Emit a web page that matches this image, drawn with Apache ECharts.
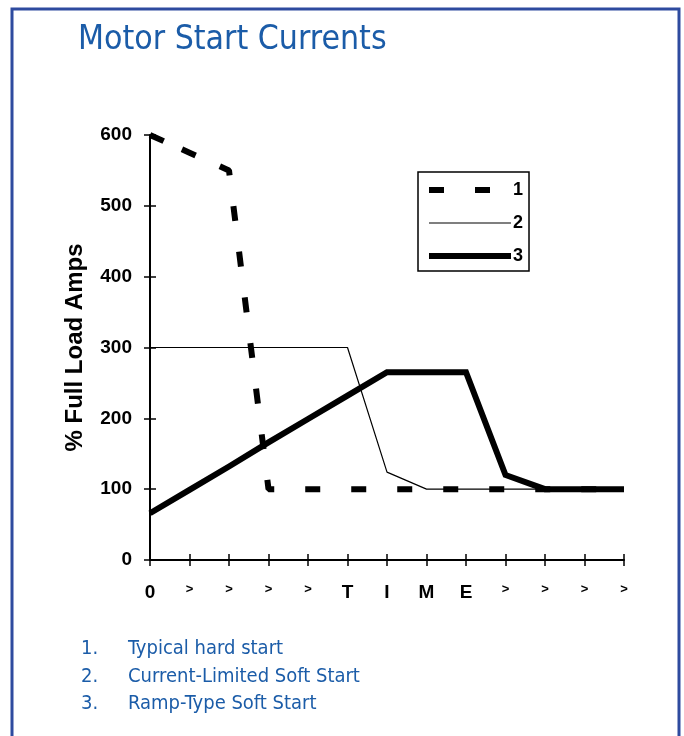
<!DOCTYPE html>
<html>
<head>
<meta charset="utf-8">
<script src="https://cdn.jsdelivr.net/npm/echarts@6/dist/echarts.min.js"></script>
<style>html,body{margin:0;padding:0;background:#fff}#c{width:684px;height:736px}</style>
</head>
<body>
<div id="c"></div>
<script>
// ---- data ----
const xLabels = ['0', '>', '>', '>', '>', 'T', 'I', 'M', 'E', '>', '>', '>', '>'];
const hardStart = [600, 575, 550, 100, 100, 100, 100, 100, 100, 100, 100, 100, 100];
const currentLimited = [300, 300, 300, 300, 300, 300, 124, 100, 100, 100, 100, 100, 100];
const rampType = [66, 99, 132, 166, 199, 232, 265, 265, 265, 120, 100, 100, 100];
const seriesNames = ['1', '2', '3'];
const notesNum = ['1.', '2.', '3.'];
const notesText = ['Typical hard start', 'Current-Limited Soft Start', 'Ramp-Type Soft Start'];
const chartTitle = 'Motor Start Currents';
const yName = '% Full Load Amps';

const blue = '#1b5ca8';
const condensed = "'Liberation Sans Narrow', 'DejaVu Sans Condensed', 'Roboto Condensed', sans-serif";
const arial = "'Liberation Sans', Arial, sans-serif";

// dash pattern (style): a few irregular dashes at the start, then regular 15/31
const dashPattern = [15, 20, 15, 26.5];
for (let k = 0; k < 20; k++) dashPattern.push(15, 31);

const lineStyles = [
  { color: '#000', width: 6, type: dashPattern, cap: 'butt' },
  { color: '#000', width: 1.2 },
  { color: '#000', width: 6, join: 'miter' }
];
const legendLineStyles = [
  { width: 6, type: [15, 31], cap: 'butt' },
  { width: 1.2 },
  { width: 6 }
];

const titles = [{
  text: chartTitle, left: 78, top: 23, padding: 0,
  textStyle: { color: blue, fontFamily: condensed, fontSize: 33.5, fontWeight: 'normal' }
}];
notesNum.forEach((n, i) => {
  titles.push({ text: n, left: 81, top: 639 + i * 27.5, padding: 0,
    textStyle: { color: blue, fontFamily: condensed, fontSize: 20, fontWeight: 'normal' } });
  titles.push({ text: notesText[i], left: 128, top: 639 + i * 27.5, padding: 0,
    textStyle: { color: blue, fontFamily: condensed, fontSize: 20, fontWeight: 'normal' } });
});

const chart = echarts.init(document.getElementById('c'), null, { renderer: 'canvas' });
chart.setOption({
  animation: false,
  backgroundColor: '#fff',
  title: titles,
  graphic: [{
    type: 'rect', silent: true,
    shape: { x: 12, y: 9, width: 667, height: 760 },
    style: { fill: 'none', stroke: '#2e4b9f', lineWidth: 3 }
  }],
  grid: { left: 150, right: 60, top: 135, bottom: 176 },
  legend: {
    left: 418, top: 172, orient: 'vertical',
    padding: [9, 6, 6, 8],
    itemWidth: 82, itemHeight: 14, itemGap: 15,
    borderColor: '#000', borderWidth: 1.5,
    itemStyle: { opacity: 0, borderWidth: 0 },
    data: seriesNames.map((n, i) => ({
      name: n,
      itemStyle: { opacity: 0, borderWidth: 0 },
      lineStyle: legendLineStyles[i]
    })),
    textStyle: { color: '#000', fontFamily: arial, fontWeight: 'bold', fontSize: 18, padding: [0, 0, 0, -3] }
  },
  xAxis: [{
    type: 'category', data: xLabels, boundaryGap: false,
    axisLine: { lineStyle: { color: '#000', width: 2 } },
    axisTick: { show: true, length: 6, lineStyle: { color: '#000', width: 1.5 } },
    axisLabel: {
      margin: 23, interval: 0,
      formatter: v => v === '>' ? '{s|>}' : '{b|' + v + '}',
      rich: {
        s: { fontFamily: arial, fontSize: 13, fontWeight: 'bold', color: '#000' },
        b: { fontFamily: arial, fontSize: 19, fontWeight: 'bold', color: '#000' }
      }
    },
    splitLine: { show: false }
  }, {
    type: 'category', data: xLabels, boundaryGap: false, position: 'bottom',
    axisLine: { show: false },
    axisTick: { show: true, inside: true, length: 6, lineStyle: { color: '#000', width: 1.5 } },
    axisLabel: { show: false }, splitLine: { show: false }
  }],
  yAxis: [{
    type: 'value', min: 0, max: 600, interval: 100,
    name: yName, nameLocation: 'middle', nameGap: 63, nameRotate: 90,
    nameTextStyle: { color: '#000', fontFamily: arial, fontWeight: 'bold', fontSize: 24 },
    axisLine: { show: true, lineStyle: { color: '#000', width: 2 } },
    axisTick: { show: true, length: 6, lineStyle: { color: '#000', width: 1.5 } },
    axisLabel: { color: '#000', fontFamily: arial, fontWeight: 'bold', fontSize: 19, margin: 18 },
    splitLine: { show: false }
  }, {
    type: 'value', min: 0, max: 600, interval: 100, position: 'left',
    axisLine: { show: false },
    axisTick: { show: true, inside: true, length: 6, lineStyle: { color: '#000', width: 1.5 } },
    axisLabel: { show: false }, splitLine: { show: false }
  }],
  series: [{
    name: seriesNames[0], type: 'line', data: hardStart, symbol: 'none', color: '#000',
    lineStyle: lineStyles[0], z: 3
  }, {
    name: seriesNames[1], type: 'line', data: currentLimited, symbol: 'none', color: '#000',
    lineStyle: lineStyles[1], z: 2
  }, {
    name: seriesNames[2], type: 'line', data: rampType, symbol: 'none', color: '#000',
    lineStyle: lineStyles[2], z: 4
  }]
});
</script>
</body>
</html>
